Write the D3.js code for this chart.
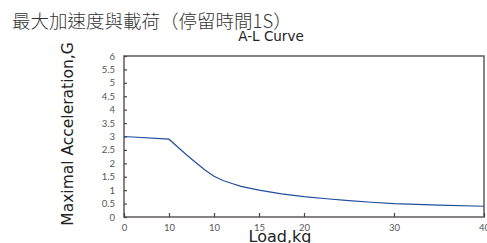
<!DOCTYPE html>
<html>
<head>
<meta charset="utf-8">
<script src="https://cdn.jsdelivr.net/npm/d3@7"></script>
<style>
  body { margin: 0; background: #fff; }
  svg { display: block; }
</style>
</head>
<body>
<div id="chart"></div>
<script>
(function () {
    var width = 487,
        height = 243;

    // values
    var loads = [0, 5, 6, 7, 8, 9, 10, 11, 12, 13, 15, 17.5, 20, 22.5, 25, 27.5, 30, 35, 40];
    var accel = [3.0, 2.9, 2.6, 2.3, 2.02, 1.75, 1.52, 1.36, 1.25, 1.14, 1.0, 0.86, 0.76, 0.68, 0.61, 0.55, 0.5, 0.44, 0.4];
    var xTicks = [0, 5, 10, 15, 20, 30, 40];
    var xTickLabels = ["0", "10", "10", "15", "20", "30", "40"];
    var yTicks = [0, 0.5, 1, 1.5, 2, 2.5, 3, 3.5, 4, 4.5, 5, 5.5, 6];

    var margin = {left: 124, right: 3, top: 56, bottom: 26};

    var svg = d3.select("#chart")
        .append("svg")
        .attr("width", width)
        .attr("height", height);

    var x = d3.scaleLinear().domain([0, 40]).range([margin.left, width - margin.right]);
    var y = d3.scaleLinear().domain([0, 6]).range([height - margin.bottom, margin.top]);

    var font = "Lato, 'DejaVu Sans', sans-serif";
    var titleFont = "'DejaVu Sans', sans-serif";

    // title
    svg.append("text")
        .attr("x", 12)
        .attr("y", 28)
        .style("font-family", "'Noto Sans CJK TC', sans-serif")
        .style("font-size", "18.5px")
        .style("font-weight", 300)
        .style("fill", "#333")
        .text("最大加速度與載荷（停留時間1S）");

    svg.append("text")
        .attr("x", 271)
        .attr("y", 41)
        .attr("text-anchor", "middle")
        .style("font-family", titleFont)
        .style("font-size", "13.5px")
        .style("fill", "#222")
        .text("A-L Curve");

    // frame
    svg.append("rect")
        .attr("x", x(0))
        .attr("y", y(6))
        .attr("width", x(40) - x(0))
        .attr("height", y(0) - y(6))
        .style("fill", "none")
        .style("stroke", "#6b6464")
        .style("stroke-width", 1.6);

    // y axis, ticks inward
    var yAxis = svg.append("g")
        .attr("transform", "translate(" + x(0) + ",0)")
        .call(d3.axisLeft(y).tickValues(yTicks).tickSize(-3).tickPadding(9)
            .tickFormat(function (d) { return String(d); }));
    yAxis.select(".domain").remove();
    yAxis.selectAll("line").style("stroke", "#444").style("stroke-width", 1.2);
    yAxis.selectAll("text")
        .style("font-family", font)
        .style("font-size", "9.5px")
        .style("fill", "#555");

    // x axis, ticks inward
    var xAxis = svg.append("g")
        .attr("transform", "translate(0," + y(0) + ")")
        .call(d3.axisBottom(x).tickValues(xTicks).tickSize(-4).tickPadding(7)
            .tickFormat(function (d, i) { return xTickLabels[i]; }));
    xAxis.select(".domain").remove();
    xAxis.selectAll("line").style("stroke", "#444").style("stroke-width", 1.2);
    xAxis.selectAll("text")
        .style("font-family", font)
        .style("font-size", "9.5px")
        .style("fill", "#555");

    // curve
    var line = d3.line()
        .x(function (d, i) { return x(loads[i]); })
        .y(function (d) { return y(d); });

    svg.append("path")
        .datum(accel)
        .attr("d", line)
        .style("fill", "none")
        .style("stroke", "#1f4f9e")
        .style("stroke-width", 1.2);

    // axis titles
    svg.append("text")
        .attr("x", 280)
        .attr("y", 242)
        .attr("text-anchor", "middle")
        .style("font-family", titleFont)
        .style("font-size", "16px")
        .style("fill", "#222")
        .text("Load,kg");

    svg.append("text")
        .attr("transform", "translate(73,134) rotate(-90)")
        .attr("text-anchor", "middle")
        .style("font-family", titleFont)
        .style("font-size", "15.5px")
        .style("fill", "#222")
        .text("Maximal Acceleration,G");
})();
</script>
</body>
</html>
